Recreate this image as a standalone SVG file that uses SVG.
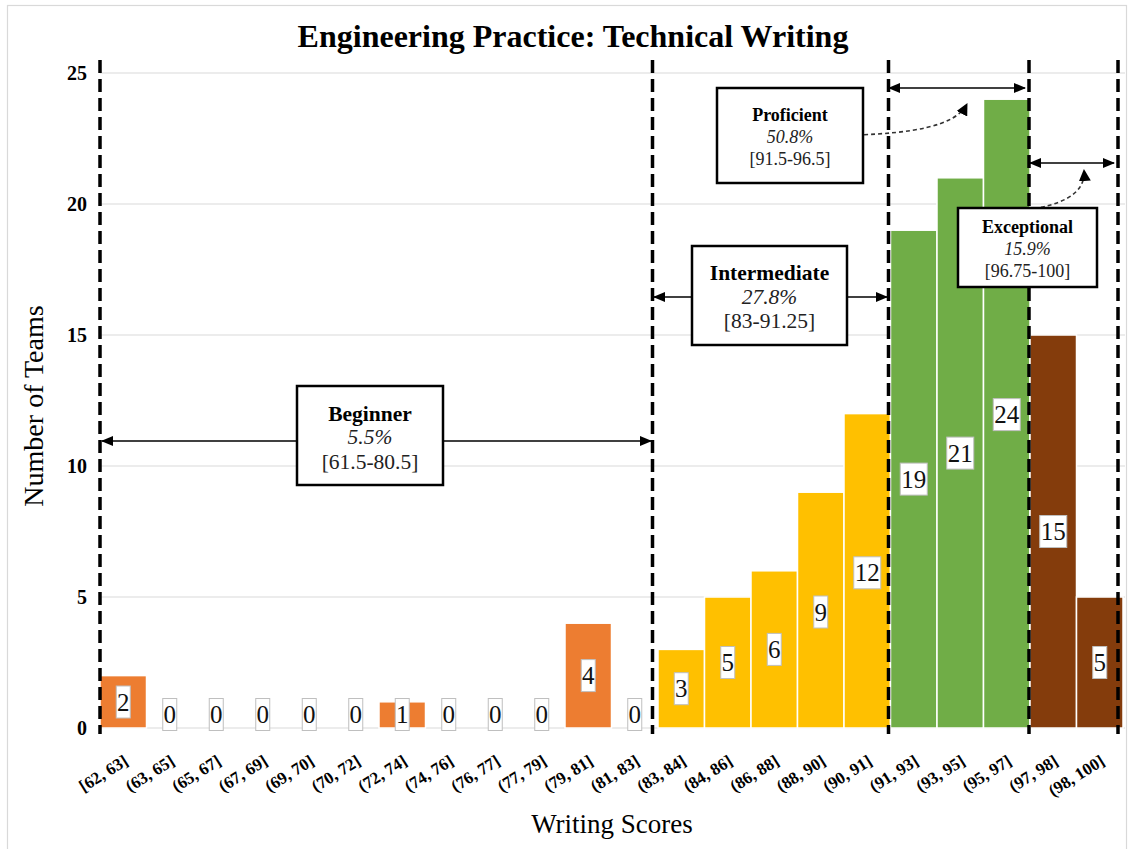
<svg xmlns="http://www.w3.org/2000/svg" width="1134" height="849" viewBox="0 0 1134 849">
  <style>
    .serif { font-family: "Liberation Serif", "Times New Roman", serif; }
    .title { font-size: 32px; font-weight: bold; fill: #000; }
    .ytick { font-size: 20px; font-weight: bold; fill: #000; text-anchor: end; }
    .xtick { font-size: 17px; font-weight: bold; fill: #000; text-anchor: end; }
    .axis-title { font-size: 27px; fill: #000; text-anchor: middle; }
    .grid { stroke: #d9d9d9; stroke-width: 1.2; }
    .bar { stroke: #ffffff; stroke-width: 1.5; }
    .orange { fill: #ED7D31; }
    .yellow { fill: #FFC000; }
    .green { fill: #70AD47; }
    .brown { fill: #843C0C; }
    .vbox { fill: #ffffff; stroke: #bfbfbf; stroke-width: 1; }
    .vtext { font-size: 25px; fill: #111; text-anchor: middle; }
    .divider { stroke: #000; stroke-width: 3.5; stroke-dasharray: 13 6; fill: none; }
    .span { stroke: #000; stroke-width: 1.5; fill: none; }
    .curve { stroke: #333; stroke-width: 1.6; stroke-dasharray: 4 3; fill: none; }
    .cat { fill: #ffffff; stroke: #000; stroke-width: 2.5; }
    .cat-l { font-size: 21.5px; fill: #000; text-anchor: middle; }
    .cat-s { font-size: 18px; fill: #000; text-anchor: middle; }
    .b { font-weight: bold; }
    .i { font-style: italic; fill: #222; }
    .r { fill: #222; }
  </style>
  <defs>
    <marker id="head" markerUnits="userSpaceOnUse" markerWidth="12" markerHeight="10" refX="11" refY="5" orient="auto-start-reverse">
      <path d="M0,0 L12,5 L0,10 z" fill="#000"/>
    </marker>
    <marker id="curvehead" markerUnits="userSpaceOnUse" markerWidth="12" markerHeight="12" refX="11" refY="6" orient="auto">
      <path d="M0,0 L12,6 L0,12 z" fill="#000"/>
    </marker>
  </defs>

  <!-- chart frame -->
  <rect x="7.5" y="5.5" width="1119" height="850" fill="#ffffff" stroke="#d9d9d9" stroke-width="1.2"/>

  <text class="serif title" x="573" y="47" text-anchor="middle">Engineering Practice: Technical Writing</text>

  <!-- value axis -->
  <g id="gridlines">
    <line class="grid" x1="100" y1="73" x2="1125" y2="73"/>
    <line class="grid" x1="100" y1="204" x2="1125" y2="204"/>
    <line class="grid" x1="100" y1="335" x2="1125" y2="335"/>
    <line class="grid" x1="100" y1="466" x2="1125" y2="466"/>
    <line class="grid" x1="100" y1="597" x2="1125" y2="597"/>
    <line class="grid" x1="100" y1="728" x2="1125" y2="728"/>
  </g>
  <g id="y-axis" class="serif">
    <text class="ytick" x="87" y="80">25</text>
    <text class="ytick" x="87" y="211">20</text>
    <text class="ytick" x="87" y="342">15</text>
    <text class="ytick" x="87" y="473">10</text>
    <text class="ytick" x="87" y="604">5</text>
    <text class="ytick" x="87" y="735">0</text>
    <text class="axis-title" style="font-size:28px" transform="translate(43,406) rotate(-90)">Number of Teams</text>
  </g>

  <!-- histogram bars, bin width 46.5 from x=100 -->
  <g id="bars">
    <rect class="bar orange" x="100" y="675.6" width="46.5" height="52.4"/>
    <rect class="bar orange" x="379" y="701.8" width="46.5" height="26.2"/>
    <rect class="bar orange" x="565" y="623.2" width="46.5" height="104.8"/>
    <rect class="bar yellow" x="658" y="649.4" width="46.5" height="78.6"/>
    <rect class="bar yellow" x="704.5" y="597" width="46.5" height="131"/>
    <rect class="bar yellow" x="751" y="570.8" width="46.5" height="157.2"/>
    <rect class="bar yellow" x="797.5" y="492.2" width="46.5" height="235.8"/>
    <rect class="bar yellow" x="844" y="413.6" width="46.5" height="314.4"/>
    <rect class="bar green" x="890.5" y="230.2" width="46.5" height="497.8"/>
    <rect class="bar green" x="937" y="177.8" width="46.5" height="550.2"/>
    <rect class="bar green" x="983.5" y="99.2" width="46.5" height="628.8"/>
    <rect class="bar brown" x="1030" y="335" width="46.5" height="393"/>
    <rect class="bar brown" x="1076.5" y="597" width="46.5" height="131"/>
  </g>

  <!-- value labels -->
  <g id="value-labels" class="serif">
    <rect class="vbox" x="116.25" y="686" width="14" height="32"/><text class="vtext" x="123.25" y="710.5">2</text>
    <rect class="vbox" x="162.75" y="698.5" width="14" height="32"/><text class="vtext" x="169.75" y="723">0</text>
    <rect class="vbox" x="209.25" y="698.5" width="14" height="32"/><text class="vtext" x="216.25" y="723">0</text>
    <rect class="vbox" x="255.75" y="698.5" width="14" height="32"/><text class="vtext" x="262.75" y="723">0</text>
    <rect class="vbox" x="302.25" y="698.5" width="14" height="32"/><text class="vtext" x="309.25" y="723">0</text>
    <rect class="vbox" x="348.75" y="698.5" width="14" height="32"/><text class="vtext" x="355.75" y="723">0</text>
    <rect class="vbox" x="395.25" y="698.5" width="14" height="32"/><text class="vtext" x="402.25" y="723">1</text>
    <rect class="vbox" x="441.75" y="698.5" width="14" height="32"/><text class="vtext" x="448.75" y="723">0</text>
    <rect class="vbox" x="488.25" y="698.5" width="14" height="32"/><text class="vtext" x="495.25" y="723">0</text>
    <rect class="vbox" x="534.75" y="698.5" width="14" height="32"/><text class="vtext" x="541.75" y="723">0</text>
    <rect class="vbox" x="581.25" y="659.6" width="14" height="32"/><text class="vtext" x="588.25" y="684.1">4</text>
    <rect class="vbox" x="627.75" y="698.5" width="14" height="32"/><text class="vtext" x="634.75" y="723">0</text>
    <rect class="vbox" x="674.25" y="672.7" width="14" height="32"/><text class="vtext" x="681.25" y="697.2">3</text>
    <rect class="vbox" x="720.75" y="646.5" width="14" height="32"/><text class="vtext" x="727.75" y="671">5</text>
    <rect class="vbox" x="767.25" y="633.4" width="14" height="32"/><text class="vtext" x="774.25" y="657.9">6</text>
    <rect class="vbox" x="813.75" y="596" width="14" height="32"/><text class="vtext" x="820.75" y="620.5">9</text>
    <rect class="vbox" x="853.75" y="556.8" width="27" height="32"/><text class="vtext" x="867.25" y="581.3">12</text>
    <rect class="vbox" x="900.25" y="463.1" width="27" height="32"/><text class="vtext" x="913.75" y="487.6">19</text>
    <rect class="vbox" x="946.75" y="437.1" width="27" height="32"/><text class="vtext" x="960.25" y="461.6">21</text>
    <rect class="vbox" x="993.25" y="398.6" width="27" height="32"/><text class="vtext" x="1006.75" y="423.1">24</text>
    <rect class="vbox" x="1039.75" y="515.5" width="27" height="32"/><text class="vtext" x="1053.25" y="540">15</text>
    <rect class="vbox" x="1092.75" y="646.5" width="14" height="32"/><text class="vtext" x="1099.75" y="671">5</text>
  </g>

  <!-- category axis -->
  <g id="x-axis" class="serif">
    <text class="xtick" transform="translate(129.25,764) rotate(-32)">[62, 63]</text>
    <text class="xtick" transform="translate(175.75,764) rotate(-32)">(63, 65]</text>
    <text class="xtick" transform="translate(222.25,764) rotate(-32)">(65, 67]</text>
    <text class="xtick" transform="translate(268.75,764) rotate(-32)">(67, 69]</text>
    <text class="xtick" transform="translate(315.25,764) rotate(-32)">(69, 70]</text>
    <text class="xtick" transform="translate(361.75,764) rotate(-32)">(70, 72]</text>
    <text class="xtick" transform="translate(408.25,764) rotate(-32)">(72, 74]</text>
    <text class="xtick" transform="translate(454.75,764) rotate(-32)">(74, 76]</text>
    <text class="xtick" transform="translate(501.25,764) rotate(-32)">(76, 77]</text>
    <text class="xtick" transform="translate(547.75,764) rotate(-32)">(77, 79]</text>
    <text class="xtick" transform="translate(594.25,764) rotate(-32)">(79, 81]</text>
    <text class="xtick" transform="translate(640.75,764) rotate(-32)">(81, 83]</text>
    <text class="xtick" transform="translate(687.25,764) rotate(-32)">(83, 84]</text>
    <text class="xtick" transform="translate(733.75,764) rotate(-32)">(84, 86]</text>
    <text class="xtick" transform="translate(780.25,764) rotate(-32)">(86, 88]</text>
    <text class="xtick" transform="translate(826.75,764) rotate(-32)">(88, 90]</text>
    <text class="xtick" transform="translate(873.25,764) rotate(-32)">(90, 91]</text>
    <text class="xtick" transform="translate(919.75,764) rotate(-32)">(91, 93]</text>
    <text class="xtick" transform="translate(966.25,764) rotate(-32)">(93, 95]</text>
    <text class="xtick" transform="translate(1012.75,764) rotate(-32)">(95, 97]</text>
    <text class="xtick" transform="translate(1059.25,764) rotate(-32)">(97, 98]</text>
    <text class="xtick" transform="translate(1105.75,764) rotate(-32)">(98, 100]</text>
    <text class="axis-title" x="612" y="833">Writing Scores</text>
  </g>

  <!-- level boundaries -->
  <g id="dividers">
    <line class="divider" x1="100" y1="60" x2="100" y2="734"/>
    <line class="divider" x1="652.5" y1="60" x2="652.5" y2="734"/>
    <line class="divider" x1="888.5" y1="60" x2="888.5" y2="734"/>
    <line class="divider" x1="1029" y1="60" x2="1029" y2="734"/>
    <line class="divider" x1="1118" y1="60" x2="1118" y2="734"/>
  </g>

  <!-- range arrows and pointers -->
  <g id="connectors">
    <line class="span" x1="297" y1="441" x2="102" y2="441" marker-end="url(#head)"/>
    <line class="span" x1="443" y1="441" x2="651" y2="441" marker-end="url(#head)"/>
    <line class="span" x1="692" y1="297" x2="654" y2="297" marker-end="url(#head)"/>
    <line class="span" x1="847" y1="297" x2="887" y2="297" marker-end="url(#head)"/>
    <line class="span" x1="889" y1="88" x2="1025" y2="88" marker-start="url(#head)" marker-end="url(#head)"/>
    <line class="span" x1="1030" y1="163" x2="1114" y2="163" marker-start="url(#head)" marker-end="url(#head)"/>
    <path class="curve" d="M857,135 C910,133 955,127 967,104" marker-end="url(#curvehead)"/>
    <path class="curve" d="M1027,210 C1058,205 1086,196 1084,170" marker-end="url(#curvehead)"/>
  </g>

  <!-- level call-outs -->
  <g id="beginner" class="serif">
    <rect class="cat" x="297" y="386" width="146" height="99"/>
    <text class="cat-l b" x="370" y="421">Beginner</text>
    <text class="cat-l i" x="370" y="444">5.5%</text>
    <text class="cat-l r" x="370" y="469">[61.5-80.5]</text>
  </g>
  <g id="intermediate" class="serif">
    <rect class="cat" x="692" y="246" width="155" height="99"/>
    <text class="cat-l b" x="769.5" y="280">Intermediate</text>
    <text class="cat-l i" x="769.5" y="304">27.8%</text>
    <text class="cat-l r" x="769.5" y="328">[83-91.25]</text>
  </g>
  <g id="proficient" class="serif">
    <rect class="cat" x="717" y="88" width="146" height="95"/>
    <text class="cat-s b" x="790" y="121">Proficient</text>
    <text class="cat-s i" x="790" y="143">50.8%</text>
    <text class="cat-s r" x="790" y="165">[91.5-96.5]</text>
  </g>
  <g id="exceptional" class="serif">
    <rect class="cat" x="958" y="208" width="139" height="79"/>
    <text class="cat-s b" x="1027.5" y="233">Exceptional</text>
    <text class="cat-s i" x="1027.5" y="255">15.9%</text>
    <text class="cat-s r" x="1027.5" y="277">[96.75-100]</text>
  </g>
</svg>
